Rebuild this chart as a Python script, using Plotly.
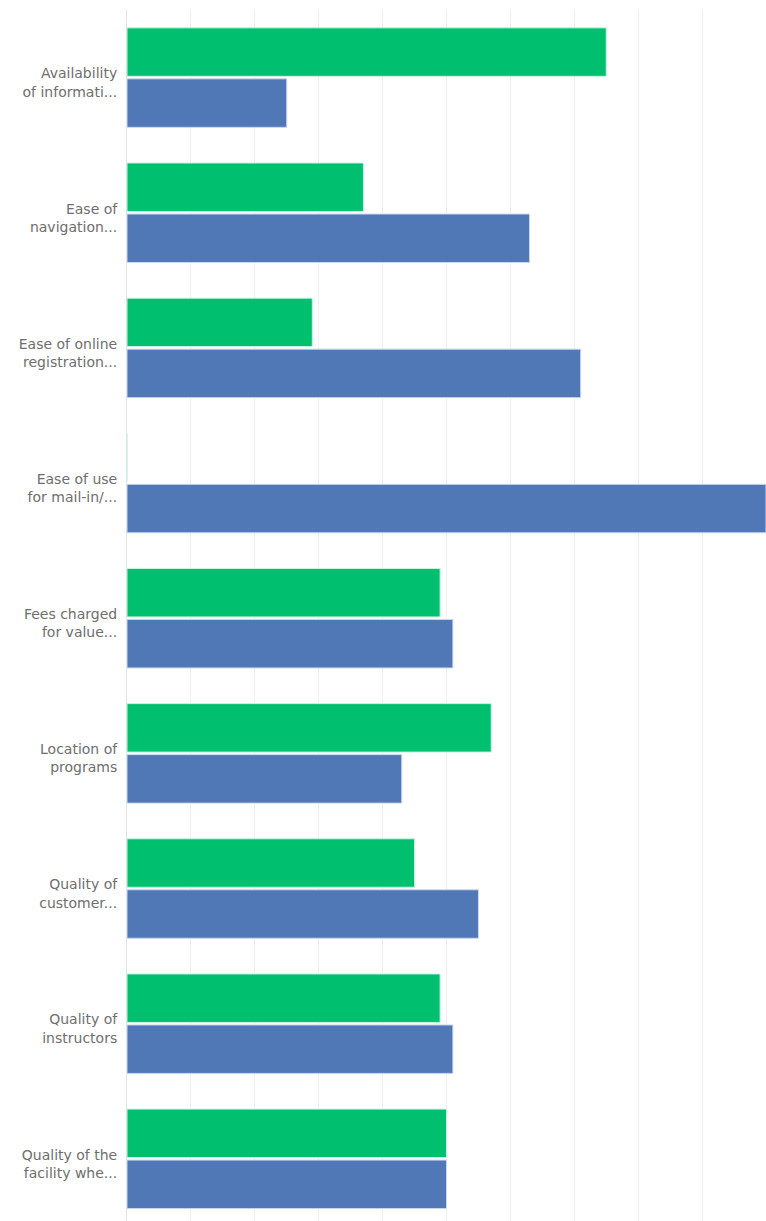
import plotly.graph_objects as go

categories = [
    "Availability<br>of informati...",
    "Ease of<br>navigation...",
    "Ease of online<br>registration...",
    "Ease of use<br>for mail-in/...",
    "Fees charged<br>for value...",
    "Location of<br>programs",
    "Quality of<br>customer...",
    "Quality of<br>instructors",
    "Quality of the<br>facility whe...",
]
green_values = [75, 37, 29, 0, 49, 57, 45, 49, 50]
blue_values = [25, 63, 71, 100, 51, 43, 55, 51, 50]

fig = go.Figure()
fig.add_trace(go.Bar(
    y=categories, x=green_values, orientation="h", name="Series 1",
    marker=dict(color="#00BF6F", line=dict(color="#c8f5e4", width=1)),
    hoverinfo="x+y",
))
fig.add_trace(go.Bar(
    y=categories, x=blue_values, orientation="h", name="Series 2",
    marker=dict(color="#5078B6", line=dict(color="#c9d8ee", width=1)),
    hoverinfo="x+y",
))

fig.update_layout(
    width=766, height=1221,
    margin=dict(l=127, r=0, t=10, b=0),
    barmode="group",
    bargap=0.245,
    bargroupgap=0.05,
    showlegend=False,
    plot_bgcolor="white",
    paper_bgcolor="white",
    font=dict(family="DejaVu Sans, sans-serif", size=13, color="#6b6b6b"),
)
fig.update_xaxes(
    range=[0, 100], dtick=10, showgrid=True, gridcolor="#f0f0f0", gridwidth=1,
    showticklabels=False, zeroline=False, showline=False,
)
fig.update_yaxes(
    range=[8.46, -0.5], showgrid=False, showline=True, linecolor="#e2e2e2",
    linewidth=1, ticks="", ticklabelstandoff=6, ticklabelshift=-5,
    tickfont=dict(family="DejaVu Sans, sans-serif", size=14, color="#6e6e6e"),
)

fig.write_html(
    "out.html",
    config={"displayModeBar": False},
    post_script="document.body.style.margin='0';document.body.style.overflow='hidden';",
)
